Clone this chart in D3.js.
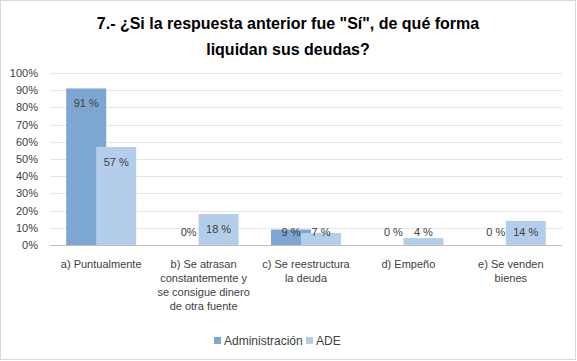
<!DOCTYPE html>
<html>
<head>
<meta charset="utf-8">
<script src="https://cdn.jsdelivr.net/npm/d3@7"></script>
<style>
  body { margin: 0; background: #fff; }
  text { font-family: "Liberation Sans", Arial, sans-serif; fill: #404040; }
</style>
</head>
<body>
<script>
////// data
const categories = ["a) Puntualmente",
  "b) Se atrasan constantemente y se consigue dinero de otra fuente",
  "c) Se reestructura la deuda", "d) Empeño", "e) Se venden bienes"];
// wrapped category labels, as in the picture
const catLines = [["a) Puntualmente"],
  ["b) Se atrasan", "constantemente y", "se consigue dinero", "de otra fuente"],
  ["c) Se reestructura", "la deuda"], ["d) Empeño"], ["e) Se venden", "bienes"]];
const seriesNames = ["Administración", "ADE"];
const admin = [91, 0, 9, 0, 0];
const ade = [57, 18, 7, 4, 14];
const adminLabels = ["91 %", "0%", "9 %", "0 %", "0 %"];
const adeLabels = ["57 %", "18 %", "7 %", "4 %", "14 %"];
const yTicks = [0, 10, 20, 30, 40, 50, 60, 70, 80, 90, 100];
const colors = ["#7EA6D2", "#B4CDEA"];
//////

const W = 577, H = 361;
const svg = d3.select("body").append("svg")
    .attr("width", W)
    .attr("height", H);

svg.append("rect")
    .attr("x", 0.5).attr("y", 0.5)
    .attr("width", 575).attr("height", 359)
    .attr("fill", "#fff")
    .attr("stroke", "#d9d9d9");

// title
const title = ["7.- ¿Si la respuesta anterior fue \"Sí\", de qué forma", "liquidan sus deudas?"];
svg.selectAll("text.title").data(title).enter().append("text")
    .attr("class", "title")
    .attr("x", 288)
    .attr("y", (d, i) => 29 + i * 26)
    .attr("text-anchor", "middle")
    .style("font-size", "16px")
    .style("font-weight", "bold")
    .style("fill", "#000")
    .text(d => d);

const x = d3.scaleBand()
    .domain(d3.range(categories.length))
    .range([50, 562]);
const y = d3.scaleLinear()
    .domain([0, 100])
    .range([245, 73]);

// grid
svg.selectAll("line.grid").data(yTicks.slice(1)).enter().append("line")
    .attr("x1", 50).attr("x2", 562)
    .attr("y1", d => Math.round(y(d)) + 0.5)
    .attr("y2", d => Math.round(y(d)) + 0.5)
    .attr("stroke", "#e6e6e6");

svg.selectAll("text.ytick").data(yTicks).enter().append("text")
    .attr("x", 38)
    .attr("y", d => y(d) + 4)
    .attr("text-anchor", "end")
    .style("font-size", "11px")
    .text(d => d + "%");

const barW = 40, shift = 15;
const series = [admin, ade];
const labels = [adminLabels, adeLabels];

series.forEach((vals, s) => {
    const off = s === 0 ? -shift : shift;
    svg.selectAll("rect.s" + s).data(vals).enter().append("rect")
        .attr("x", (d, i) => x(i) + x.bandwidth() / 2 + off - barW / 2)
        .attr("y", d => y(d))
        .attr("width", barW)
        .attr("height", d => y(0) - y(d))
        .attr("fill", colors[s]);
});

series.forEach((vals, s) => {
    const off = s === 0 ? -shift : shift;
    svg.selectAll("text.l" + s).data(vals).enter().append("text")
        .attr("x", (d, i) => x(i) + x.bandwidth() / 2 + off)
        .attr("y", d => Math.min(y(d) + 15, 232) + 4)
        .attr("text-anchor", "middle")
        .style("font-size", "11px")
        .text((d, i) => labels[s][i]);
});

// axis line
svg.append("line")
    .attr("x1", 50).attr("x2", 562)
    .attr("y1", 245.5).attr("y2", 245.5)
    .attr("stroke", "#bfbfbf");

// category labels
catLines.forEach((lines, i) => {
    svg.selectAll("text.c" + i).data(lines).enter().append("text")
        .attr("x", x(i) + x.bandwidth() / 2)
        .attr("y", (d, j) => 268 + j * 14)
        .attr("text-anchor", "middle")
        .style("font-size", "11px")
        .text(d => d);
});

// legend
const legX = [214, 306];
seriesNames.forEach((name, s) => {
    svg.append("rect")
        .attr("x", legX[s]).attr("y", 337)
        .attr("width", 7).attr("height", 7)
        .attr("fill", colors[s]);
    svg.append("text")
        .attr("x", legX[s] + 10)
        .attr("y", 345)
        .style("font-size", "12px")
        .text(name);
});
</script>
</body>
</html>
